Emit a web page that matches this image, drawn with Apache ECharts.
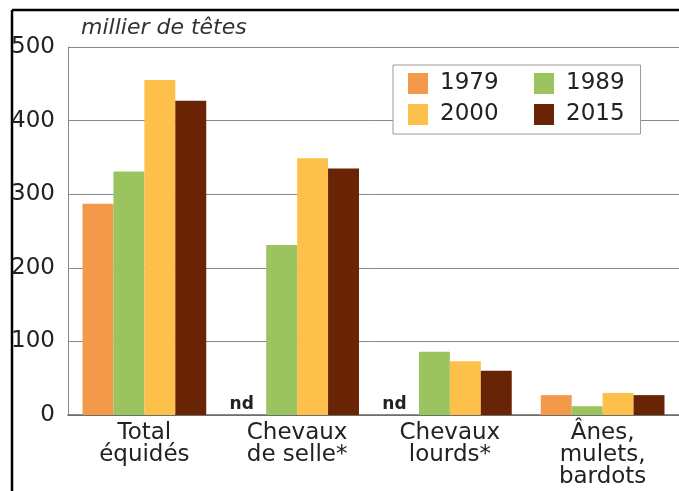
<!DOCTYPE html>
<html>
<head>
<meta charset="utf-8">
<script src="https://cdn.jsdelivr.net/npm/echarts@6/dist/echarts.min.js"></script>
<style>
  html, body { margin: 0; padding: 0; background: #fff; }
  #chart { width: 679px; height: 491px; }
</style>
</head>
<body>
<div id="chart"></div>
<script>
// categories and values (milliers de têtes), null = nd
const categories = ['Total\néquidés', 'Chevaux\nde selle*', 'Chevaux\nlourds*', 'Ânes,\nmulets,\nbardots']
const years = ['1979', '1989', '2000', '2015']
const values1979 = [287, null, null, 27]
const values1989 = [331, 231, 86, 12]
const values2000 = [455, 349, 73, 30]
const values2015 = [427, 335, 60, 27]
const colors = ['#F29A49', '#9BC35F', '#FDC04A', '#692305']

const FONT = 'DejaVu Sans'

const toData = arr => arr.map(v => v == null
  ? { value: 0, label: { show: true, formatter: 'nd', position: 'top', distance: 2, offset: [-9, 0],
      fontFamily: FONT, fontSize: 17, fontWeight: 'bold', color: '#222' } }
  : v)

const seriesValues = [values1979, values1989, values2000, values2015]

const chart = echarts.init(document.getElementById('chart'))
chart.setOption({
  animation: false,
  backgroundColor: '#fff',
  title: {
    text: 'millier de têtes',
    left: 76, top: 12,
    textStyle: { fontFamily: FONT, fontSize: 22, fontStyle: 'italic', fontWeight: 'normal', color: '#333' },
  },
  legend: {
    left: 393, top: 65, width: 240,
    orient: 'horizontal',
    padding: [7, 16, 8, 15],
    itemGap: 8,
    itemWidth: 20, itemHeight: 21,
    icon: 'rect',
    backgroundColor: '#fff',
    borderColor: '#9a9a9a', borderWidth: 1, borderRadius: 0,
    textStyle: { fontFamily: FONT, fontSize: 23, color: '#222', lineHeight: 22, padding: [0, 0, 0, 7] },
    data: years.map((y, i) => i % 2 === 0
      ? { name: y, textStyle: { width: 86 } }
      : { name: y }),
  },
  grid: { left: 68, top: 47, right: -5, bottom: 76 },
  xAxis: {
    type: 'category',
    data: categories,
    axisLine: { lineStyle: { color: '#666', width: 1.5 } },
    axisTick: { show: false },
    axisLabel: { interval: 0, margin: 7, fontFamily: FONT, fontSize: 23, lineHeight: 22, color: '#222' },
  },
  yAxis: {
    type: 'value',
    min: 0, max: 500, interval: 100,
    axisLine: { show: true, lineStyle: { color: '#888' } },
    axisTick: { show: false },
    axisLabel: { margin: 13, fontFamily: FONT, fontSize: 23, color: '#222' },
    splitLine: { lineStyle: { color: '#888', width: 1 } },
  },
  series: years.map((y, i) => ({
    name: y,
    type: 'bar',
    data: toData(seriesValues[i]),
    barGap: '0%',
    barCategoryGap: '19%',
    itemStyle: { color: colors[i] },
  })),
  graphic: [
    { type: 'line', shape: { x1: 12, y1: 10, x2: 679, y2: 10 }, style: { stroke: '#000', lineWidth: 2.5 } },
    { type: 'line', shape: { x1: 12, y1: 10, x2: 12, y2: 491 }, style: { stroke: '#000', lineWidth: 2.5 } },
  ],
})
</script>
</body>
</html>
